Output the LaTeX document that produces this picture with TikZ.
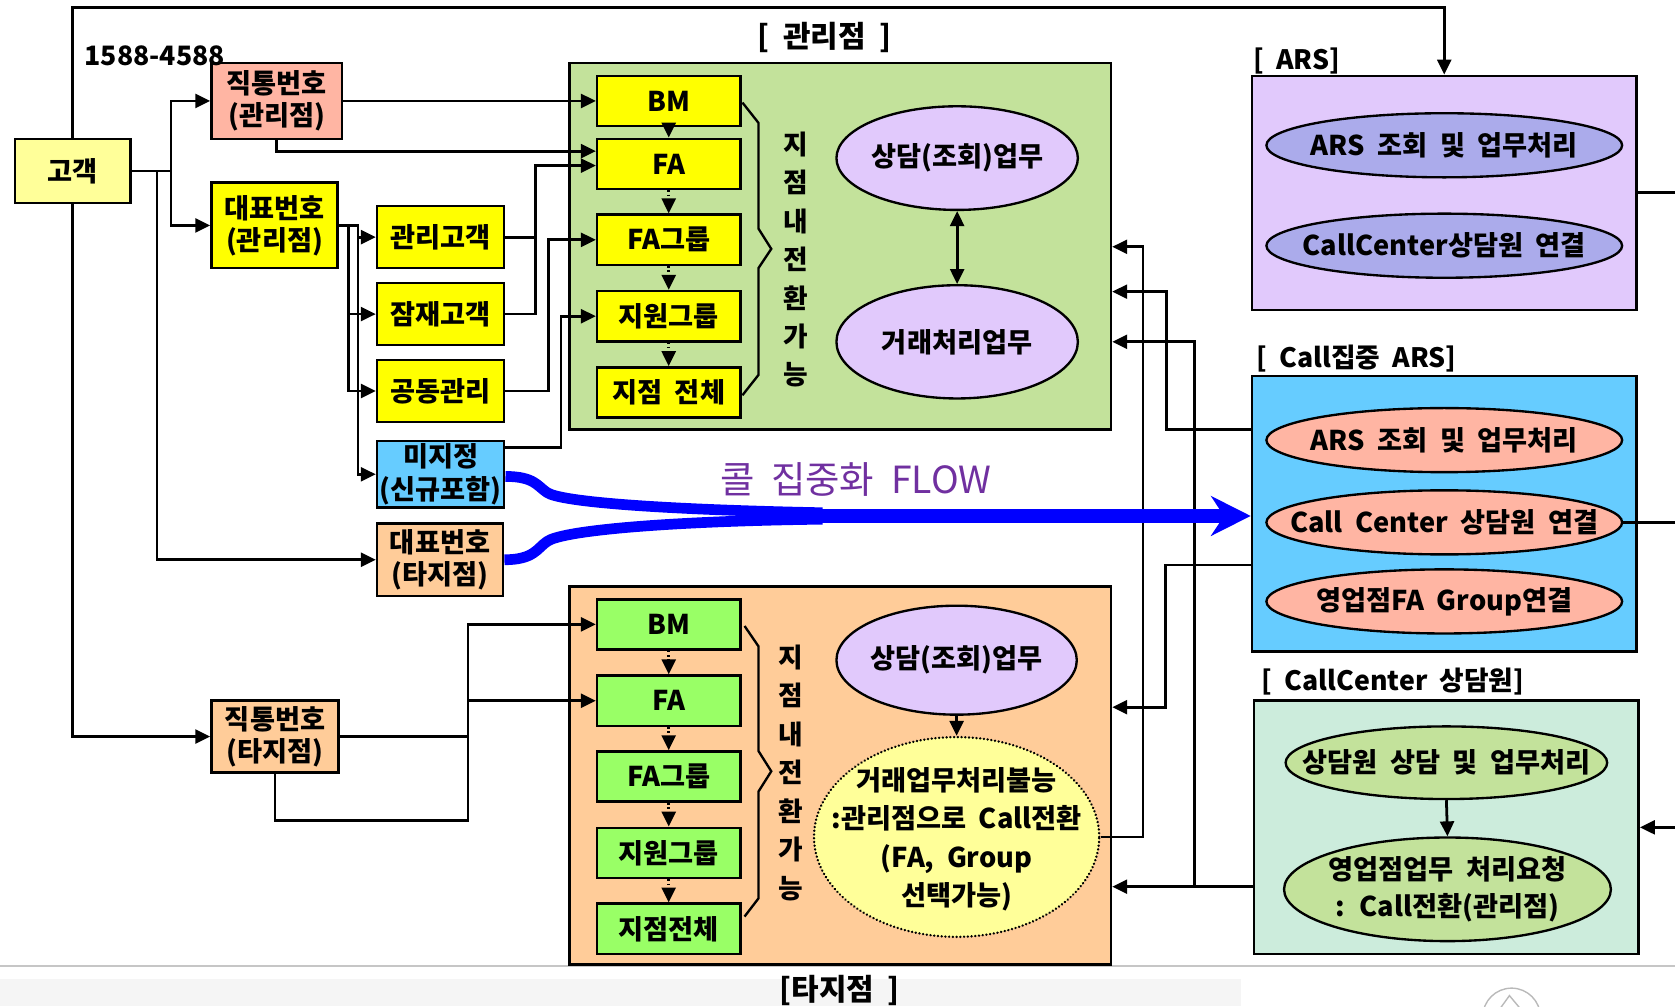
\documentclass[tikz,border=0pt]{standalone}
\usepackage{fontspec}
\setmainfont{Noto Sans CJK KR}[WordSpace=2]
\usetikzlibrary{arrows.meta,shapes.geometric}

\definecolor{cLtYellow}{HTML}{FFFF99}
\definecolor{cSalmon}{HTML}{FFB5A3}
\definecolor{cYellow}{HTML}{FFFF00}
\definecolor{cSky}{HTML}{66CCFF}
\definecolor{cPeach}{HTML}{FFCC99}
\definecolor{cLeaf}{HTML}{C3E29B}
\definecolor{cLime}{HTML}{99FF66}
\definecolor{cLilac}{HTML}{E1C9FC}
\definecolor{cPeri}{HTML}{ABABEB}
\definecolor{cMint}{HTML}{CCECDC}
\definecolor{cFlow}{HTML}{7030A0}
\definecolor{cBlue}{HTML}{0000FF}

\newcommand\bxfont{\fontsize{25.5}{30}\selectfont\bfseries}
\newcommand\twofont{\fontsize{25.5}{36}\selectfont\bfseries}
\newcommand\lblfont{\fontsize{25}{28}\selectfont\bfseries}

\begin{document}
\begin{tikzpicture}[x=1pt,y=-1pt,
  box/.style={draw, line width=2.4pt, inner sep=0pt, align=center, font=\bxfont},
  inbox/.style={box, minimum width=134, minimum height=47},
  panel/.style={draw, line width=2.4pt, inner sep=0pt},
  oval/.style={ellipse, draw, line width=2.2pt, inner sep=0pt},
  otext/.style={inner sep=0pt, align=center, font=\bxfont},
  lbl/.style={inner sep=0pt, font=\lblfont},
  wire/.style={line width=2.6pt},
  tip/.style={-{Triangle[length=14pt,width=13pt]}},
  arr/.style={wire, tip},
  dotarr/.style={arr, dash pattern=on 1.5pt off 2.5pt},
  brace/.style={line width=2.2pt, line join=miter},
  flow/.style={draw=cBlue, line width=10pt}]
\useasboundingbox (0,0) rectangle (1568,942);

% page footer strip
\draw[gray!45, line width=1.5pt] (0,904) -- (1568,904);
\fill[gray!8] (0,916) rectangle (1162,942);
\node[inner sep=0pt, font=\fontsize{28}{30}\selectfont\bfseries] (footer) at (786,927) {[타지점 ]};
\draw[gray!55, line width=1.3pt] (1388,952) arc[start angle=180, end angle=360, radius=27];
\draw[gray!55, line width=1.3pt] (1400,950) -- (1413,932) -- (1428,950);

% ---- containers ----
\node[panel, fill=cLeaf, minimum width=507, minimum height=343] (gmain) at (786.5,230.5) {};
\node[panel, fill=cPeach, minimum width=507, minimum height=354] (ota) at (786.5,726) {};
\node[panel, fill=cLilac, minimum width=360, minimum height=219] (ars) at (1352,180.5) {};
\node[panel, fill=cSky, minimum width=360, minimum height=258] (cars) at (1352,481) {};
\node[panel, fill=cMint, minimum width=360, minimum height=237] (ccb) at (1354,774.5) {};

% ---- section titles ----
\node[inner sep=0pt, font=\fontsize{28}{30}\selectfont\bfseries] (tA) at (772,35) {[ 관리점 ]};
\node[lbl, anchor=west] (tB) at (1173,57) {[ ARS]};
\node[lbl, anchor=west] (tC) at (1176,336) {[ Call집중 ARS]};
\node[lbl, anchor=west] (tD) at (1181,638) {[ CallCenter 상담원]};

% ---- customer side ----
\node[box, fill=cLtYellow, minimum width=108, minimum height=60] (gk) at (68,160) {고객};
\node[box, fill=cSalmon, minimum width=122, minimum height=71] (jt1) at (259,94.5) {직통번호\\(관리점)};
\node[box, fill=cYellow, minimum width=118, minimum height=80] (db1) at (257,211) {대표번호\\(관리점)};
\node[box, fill=cYellow, minimum width=119, minimum height=58] (gg) at (412.5,222) {관리고객};
\node[box, fill=cYellow, minimum width=119, minimum height=58] (jj) at (412.5,294) {잠재고객};
\node[box, fill=cYellow, minimum width=119, minimum height=58] (gd) at (412.5,366) {공동관리};
\node[box, fill=cSky, minimum width=119, minimum height=62] (mj) at (412.5,444) {미지정\\(신규포함)};
\node[box, fill=cPeach, minimum width=118, minimum height=68] (db2) at (412,524) {대표번호\\(타지점)};
\node[box, fill=cPeach, minimum width=119, minimum height=67] (jt2) at (257.5,689.5) {직통번호\\(타지점)};
\node[lbl, anchor=west] (num) at (79,52) {1588-4588};

% ---- branch (managing) ----
\node[inbox, fill=cYellow] (bm1) at (626,94.5) {BM};
\node[inbox, fill=cYellow] (fa1) at (626,153.5) {FA};
\node[inbox, fill=cYellow] (fg1) at (626,224.5) {FA그룹};
\node[inbox, fill=cYellow] (jw1) at (626,296) {지원그룹};
\node[inbox, fill=cYellow] (jc1) at (626,367.5) {지점 전체};
\draw[brace] (695,96) -- (710,115) -- (710,214) -- (722,233) -- (710,251) -- (710,351) -- (695,370);
\node[inner sep=0pt, align=center, font=\fontsize{25}{36}\selectfont\bfseries] (vt1) at (745,243) {지\\점\\내\\전\\환\\가\\능};
\node[oval, fill=cLilac, minimum width=226, minimum height=97] (e1) at (896,148) {};
\node[otext] (e1t) at (e1.center) {상담(조회)업무};
\node[oval, fill=cLilac, minimum width=226, minimum height=106] (e2) at (896,320) {};
\node[otext] (e2t) at (e2.center) {거래처리업무};

% ---- branch (other) ----
\node[inbox, fill=cLime] (bm2) at (626,584.5) {BM};
\node[inbox, fill=cLime] (fa2) at (626,656) {FA};
\node[inbox, fill=cLime] (fg2) at (626,727) {FA그룹};
\node[inbox, fill=cLime] (jw2) at (626,798.5) {지원그룹};
\node[inbox, fill=cLime] (jc2) at (626,869.5) {지점전체};
\draw[brace] (697,586) -- (710,605) -- (710,703) -- (722,722) -- (710,741) -- (710,841) -- (697,858);
\node[inner sep=0pt, align=center, font=\fontsize{25}{36}\selectfont\bfseries] (vt2) at (740,723.5) {지\\점\\내\\전\\환\\가\\능};
\node[oval, fill=cLilac, minimum width=225, minimum height=102] (e3) at (895.5,618) {};
\node[otext] (e3t) at (e3.center) {상담(조회)업무};
\node[oval, fill=cLtYellow, minimum width=267, minimum height=187, dash pattern=on 0.1pt off 3.4pt, line cap=round, line width=2.4pt] (e4) at (895.5,783.5) {};
\node[otext, font=\twofont] (e4t) at ([yshift=-2pt]e4.center) {거래업무처리불능\\:관리점으로 Call전환\\(FA, Group\\선택가능)};

% ---- ARS ----
\node[oval, fill=cPeri, minimum width=333, minimum height=60] (a1) at (1352,136) {};
\node[otext] (a1t) at (a1.center) {ARS 조회 및 업무처리};
\node[oval, fill=cPeri, minimum width=333, minimum height=60] (a2) at (1352,230) {};
\node[otext] (a2t) at (a2.center) {CallCenter상담원 연결};
\node[oval, fill=cSalmon, minimum width=333, minimum height=60] (c1) at (1352,412) {};
\node[otext] (c1t) at (c1.center) {ARS 조회 및 업무처리};
\node[oval, fill=cSalmon, minimum width=333, minimum height=60] (c2) at (1352,489) {};
\node[otext] (c2t) at (c2.center) {Call Center 상담원 연결};
\node[oval, fill=cSalmon, minimum width=333, minimum height=60] (c3) at (1352,563) {};
\node[otext] (c3t) at (c3.center) {영업점FA Group연결};
\node[oval, fill=cLeaf, minimum width=301, minimum height=68] (k1) at (1354,714) {};
\node[otext] (k1t) at (k1.center) {상담원 상담 및 업무처리};
\node[oval, fill=cLeaf, minimum width=306, minimum height=97] (k2) at (1355,832.5) {};
\node[otext, font=\fontsize{25.5}{35}\selectfont\bfseries] (k2t) at (k2.center) {영업점업무 처리요청\\: Call전환(관리점)};

\node[inner sep=0pt, text=cFlow, font=\fontsize{35}{36}\selectfont] (flowlbl) at (801,449) {콜 집중화 FLOW};

% ---- connectors: customer side ----
\coordinate (gfork) at (160,160);
\coordinate (gdrop) at (147,160);
\draw[arr] (gk.north) |- (1352,7) -- (ars.north);
\draw[arr] (gk.south) |- (jt2.west);
\draw[wire] (gk.east) -- (gfork);
\draw[arr] (gfork) |- (jt1.west);
\draw[arr] (gfork) |- (db1.west);
\draw[arr] (gdrop) |- (db2.west);

\draw[arr] (jt1.east) -- (bm1.west);
\draw[arr] (jt1.south) |- ([yshift=12pt]fa1.west);

\draw[arr] (db1.east) -- ++(9,0) |- (jj.west);
\draw[arr] (db1.east) -- ++(9,0) |- (gd.west);
\draw[arr] (db1.east) -- ++(18,0) |- (gg.west);
\draw[arr] (db1.east) -- ++(18,0) |- (mj.west);

\draw[arr] (gg.east) -- ++(28,0) |- ([yshift=-1.5pt]fa1.west);
\draw[wire] (jj.east) -- ++(28,0) -- ++(0,-72);
\draw[arr] (gd.east) -- ++(40,0) |- (fg1.west);
\draw[arr] ([yshift=25pt]mj.east) -- ++(52,0) |- (jw1.west);

\coordinate (tjx) at (438,689.5);
\draw[wire] (jt2.east) -- (tjx);
\draw[wire] (jt2.south) |- (438,768) -- (tjx);
\draw[arr] (tjx) |- (bm2.west);
\draw[arr] (tjx) |- (fa2.west);

% ---- connectors inside branches ----
\draw[arr] (bm1.south) -- (fa1.north);
\draw[dotarr] (fa1.south) -- (fg1.north);
\draw[dotarr] (fg1.south) -- (jw1.north);
\draw[dotarr] (jw1.south) -- (jc1.north);
\draw[dotarr] (bm2.south) -- (fa2.north);
\draw[dotarr] (fa2.south) -- (fg2.north);
\draw[dotarr] (fg2.south) -- (jw2.north);
\draw[dotarr] (jw2.south) -- (jc2.north);
\draw[wire, {Triangle[length=14pt,width=13pt]}-{Triangle[length=14pt,width=13pt]}] (e1.south) -- (e2.north);
\draw[arr] (e3.south) -- (e4.north);
\draw[arr] (k1.south) -- (k2.north);

% ---- connectors: right side ----
\draw[arr] (e4.east) -- (1070,783.5) |- (gmain.east |- 0,231);
\draw[arr] (cars.west |- 0,402) -- (1092,402) |- (gmain.east |- 0,273);
\draw[arr] (ccb.west |- 0,830) -- (1118,830) |- (gmain.east |- 0,320);
\draw[arr] (1118,830) -- (ota.east |- 0,830);
\draw[arr] (cars.west |- 0,529) -- (1091,529) |- (ota.east |- 0,662);
\coordinate (edgeA) at (1568,180.5);
\coordinate (edgeB) at (1568,489);
\coordinate (edgeC) at (1568,774.5);
\draw[wire] (ars.east) -- (edgeA);
\draw[wire] (c2.east) -- (edgeB);
\draw[arr] (edgeC) -- (ccb.east);

% ---- call concentration flow ----
\draw[flow] ([yshift=-2pt]mj.east) .. controls (500,446) and (503,455) .. (512,461) .. controls (525,470) and (620,477) .. (770,480);
\draw[flow] (db2.east) .. controls (500,524) and (503,513) .. (512,507) .. controls (525,497) and (620,488) .. (770,486);
\draw[flow, line width=13pt, -{Stealth[length=37pt,width=37pt,inset=12pt]}] (760,483) -- (cars.west |- 0,483);
\end{tikzpicture}
\end{document}
